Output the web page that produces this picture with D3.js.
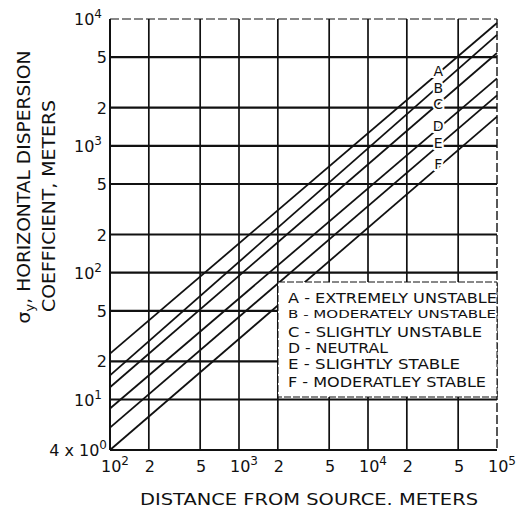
<!DOCTYPE html>
<html>
<head>
<meta charset="utf-8">
<script src="https://cdn.jsdelivr.net/npm/d3@7"></script>
<style>
  body { margin: 0; background: #fff; }
  text { font-family: "DejaVu Sans", sans-serif; fill: #111; }
</style>
</head>
<body>
<div id="chart"></div>
<script>
// stability classes and values (sigma_y in meters)
const distances = [100, 100000];
const stabilityClasses = ["A", "B", "C", "D", "E", "F"];
const classNames = ["EXTREMELY UNSTABLE", "MODERATELY UNSTABLE", "SLIGHTLY UNSTABLE",
                    "NEUTRAL", "SLIGHTLY STABLE", "MODERATLEY STABLE"];
const sigmaA = [23, 9300];
const sigmaB = [15.5, 7500];
const sigmaC = [12.5, 5400];
const sigmaD = [8.5, 3400];
const sigmaE = [6, 2500];
const sigmaF = [4, 1700];

const xTickValues = [100, 200, 500, 1000, 2000, 5000, 10000, 20000, 50000, 100000];
const xTickLabels = ["10^2", "2", "5", "10^3", "2", "5", "10^4", "2", "5", "10^5"];
const yTickValues = [4, 10, 20, 50, 100, 200, 500, 1000, 2000, 5000, 10000];
const yTickLabels = ["4 x 10^0", "10^1", "2", "5", "10^2", "2", "5", "10^3", "2", "5", "10^4"];

const series = [sigmaA, sigmaB, sigmaC, sigmaD, sigmaE, sigmaF];

const width = 519, height = 512;
const plot = {left: 110, right: 497, top: 19, bottom: 450};

const svg = d3.select("#chart")
  .append("svg")
    .attr("width", width)
    .attr("height", height);

const x = d3.scaleLog().domain([100, 100000]).range([plot.left, plot.right]);
const y = d3.scaleLog().domain([4, 10000]).range([plot.bottom, plot.top]);

// grid
svg.append("g")
  .selectAll("line")
  .data(xTickValues.slice(1, -1))
  .join("line")
    .attr("x1", d => x(d)).attr("x2", d => x(d))
    .attr("y1", plot.top).attr("y2", plot.bottom)
    .attr("stroke", "#111")
    .attr("stroke-width", 1.7);

svg.append("g")
  .selectAll("line")
  .data(yTickValues.slice(1, -1))
  .join("line")
    .attr("x1", plot.left).attr("x2", plot.right)
    .attr("y1", d => y(d)).attr("y2", d => y(d))
    .attr("stroke", "#111")
    .attr("stroke-width", 2.2);

// frame: left and bottom solid, top and right dashed like the scan
svg.append("line").attr("x1", plot.left).attr("x2", plot.left).attr("y1", plot.top).attr("y2", plot.bottom)
  .attr("stroke", "#111").attr("stroke-width", 2);
svg.append("line").attr("x1", plot.left).attr("x2", plot.right).attr("y1", plot.bottom).attr("y2", plot.bottom)
  .attr("stroke", "#111").attr("stroke-width", 2.2);
svg.append("line").attr("x1", plot.left).attr("x2", plot.right).attr("y1", plot.top).attr("y2", plot.top)
  .attr("stroke", "#111").attr("stroke-width", 1.2).attr("stroke-dasharray", "9,3");
svg.append("line").attr("x1", plot.right).attr("x2", plot.right).attr("y1", plot.top).attr("y2", plot.bottom)
  .attr("stroke", "#111").attr("stroke-width", 1.4).attr("stroke-dasharray", "9,3");

// class lines
const line = d3.line()
  .x((d, i) => x(distances[i]))
  .y(d => y(d));

svg.append("g")
  .selectAll("path")
  .data(series)
  .join("path")
    .attr("d", d => line(d))
    .attr("fill", "none")
    .attr("stroke", "#111")
    .attr("stroke-width", 1.8);

// letters sitting on the lines
const labelDist = 35000;
const labelShift = [-2, 1, 0, -3, -3, -3.5];
function sigmaAt(s, dist) {
  const t = (Math.log10(dist) - Math.log10(distances[0])) / (Math.log10(distances[1]) - Math.log10(distances[0]));
  return Math.pow(10, Math.log10(s[0]) + t * (Math.log10(s[1]) - Math.log10(s[0])));
}
svg.append("g")
  .selectAll("text")
  .data(series)
  .join("text")
    .attr("x", x(labelDist))
    .attr("y", (d, i) => y(sigmaAt(d, labelDist)) + 5 + labelShift[i])
    .attr("text-anchor", "middle")
    .attr("font-size", 14)
    .attr("stroke", "#fff")
    .attr("stroke-width", 4)
    .attr("paint-order", "stroke")
    .text((d, i) => stabilityClasses[i]);

// legend box
svg.append("rect")
  .attr("x", 278).attr("y", 282)
  .attr("width", plot.right - 278).attr("height", 115)
  .attr("fill", "#fff")
  .attr("stroke", "#111")
  .attr("stroke-width", 1)
  .attr("stroke-dasharray", "7,2");

const legendY = [303, 318, 337, 353, 369, 387];
const legendLen = [209, 208, 194, 100, 172, 198];
const legendSize = [14, 11, 14, 14, 14, 14];
svg.append("g")
  .selectAll("text")
  .data(stabilityClasses)
  .join("text")
    .attr("x", 288)
    .attr("y", (d, i) => legendY[i])
    .attr("font-size", (d, i) => legendSize[i])
    .attr("textLength", (d, i) => legendLen[i])
    .attr("lengthAdjust", "spacingAndGlyphs")
    .text((d, i) => d + " - " + classNames[i]);

// tick labels with superscripts
function powerLabel(sel, str) {
  const parts = str.split("^");
  sel.append("tspan").text(parts[0]);
  if (parts[1]) sel.append("tspan").attr("dy", -7).attr("font-size", 12).text(parts[1]);
}

xTickValues.forEach((v, i) => {
  const lab = xTickLabels[i];
  const t = svg.append("text")
    .attr("x", x(v) + (lab.includes("^") ? 5 : 1))
    .attr("y", 472)
    .attr("text-anchor", "middle")
    .attr("font-size", 16);
  powerLabel(t, lab);
});

yTickValues.forEach((v, i) => {
  const lab = yTickLabels[i];
  const t = svg.append("text")
    .attr("x", lab.startsWith("4") ? 107 : (lab.includes("^") ? 102 : 107))
    .attr("y", y(v) + 6)
    .attr("text-anchor", "end")
    .attr("font-size", 16);
  powerLabel(t, lab);
});

// axis titles
svg.append("text")
  .attr("x", 140).attr("y", 505)
  .attr("font-size", 16)
  .attr("textLength", 338)
  .attr("lengthAdjust", "spacingAndGlyphs")
  .text("DISTANCE FROM SOURCE. METERS");

const yt1 = svg.append("text")
  .attr("transform", "translate(30,187) rotate(-90)")
  .attr("text-anchor", "middle")
  .attr("font-size", 18)
  .attr("textLength", 273)
  .attr("lengthAdjust", "spacingAndGlyphs");
yt1.append("tspan").text("σ");
yt1.append("tspan").attr("dy", 4).attr("font-size", 13).text("y");
yt1.append("tspan").attr("dy", -4).text(", HORIZONTAL DISPERSION");

svg.append("text")
  .attr("transform", "translate(55,206) rotate(-90)")
  .attr("text-anchor", "middle")
  .attr("font-size", 17)
  .attr("textLength", 212)
  .attr("lengthAdjust", "spacingAndGlyphs")
  .text("COEFFICIENT, METERS");
</script>
</body>
</html>
